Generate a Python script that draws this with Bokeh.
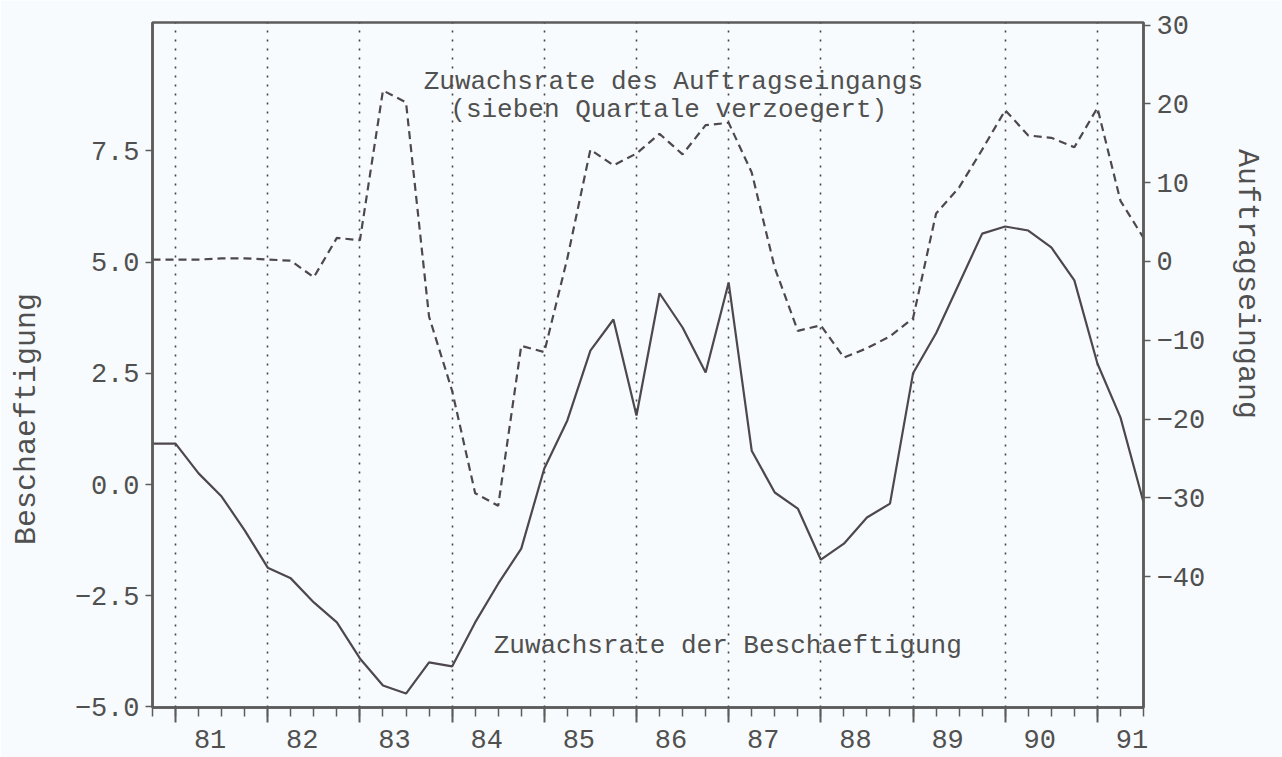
from bokeh.plotting import figure
from bokeh.models import Range1d, LinearAxis, FixedTicker, ColumnDataSource
from bokeh.embed import file_html
from bokeh.resources import INLINE
from bokeh.core.properties import value

# ---------------- data ----------------
quarters = ["1980Q4",
            "1981Q1", "1981Q2", "1981Q3", "1981Q4",
            "1982Q1", "1982Q2", "1982Q3", "1982Q4",
            "1983Q1", "1983Q2", "1983Q3", "1983Q4",
            "1984Q1", "1984Q2", "1984Q3", "1984Q4",
            "1985Q1", "1985Q2", "1985Q3", "1985Q4",
            "1986Q1", "1986Q2", "1986Q3", "1986Q4",
            "1987Q1", "1987Q2", "1987Q3", "1987Q4",
            "1988Q1", "1988Q2", "1988Q3", "1988Q4",
            "1989Q1", "1989Q2", "1989Q3", "1989Q4",
            "1990Q1", "1990Q2", "1990Q3", "1990Q4",
            "1991Q1", "1991Q2", "1991Q3"]

beschaeftigung = [0.92, 0.92, 0.25, -0.27, -1.03, -1.87, -2.11, -2.65, -3.10, -3.91,
                  -4.52, -4.70, -4.00, -4.09, -3.10, -2.23, -1.44, 0.36, 1.44, 3.01,
                  3.71, 1.55, 4.30, 3.53, 2.52, 4.54, 0.76, -0.18, -0.54, -1.69,
                  -1.33, -0.74, -0.43, 2.50, 3.40, 4.52, 5.64, 5.80, 5.71, 5.33,
                  4.59, 2.72, 1.51, -0.40]

auftragseingang = [0.25, 0.25, 0.25, 0.4, 0.4, 0.25, 0.1, -2.0, 3.0, 2.7,
                   21.7, 20.2, -7.0, -16.4, -29.4, -31.0, -10.7, -11.5, 0.4, 14.2,
                   12.2, 13.7, 16.2, 13.6, 17.3, 17.6, 11.3, -0.8, -8.8, -8.1,
                   -12.2, -11.0, -9.5, -7.2, 6.1, 9.4, 14.2, 19.2, 16.0, 15.7,
                   14.5, 19.5, 7.7, 3.0]

years = [1981, 1982, 1983, 1984, 1985, 1986, 1987, 1988, 1989, 1990, 1991]
year_labels = ["81", "82", "83", "84", "85", "86", "87", "88", "89", "90", "91"]

left_ticks = [-5.0, -2.5, 0.0, 2.5, 5.0, 7.5]
left_labels = ["\u22125.0", "\u22122.5", "0.0", "2.5", "5.0", "7.5"]
right_ticks = [-40, -30, -20, -10, 0, 10, 20, 30]
right_labels = ["\u221240", "\u221230", "\u221220", "\u221210", "0", "10", "20", "30"]

# ---------------- helpers ----------------
def q_to_x(q):
    return int(q[:4]) + (int(q[5]) - 1) / 4.0

xs = [q_to_x(q) for q in quarters]
quarter_ticks = xs
label_pos = [y + 0.375 for y in years]

BG = "#f8fbfd"
INK = "#4d484b"
TXT = "#505050"
FONT = "Liberation Mono"

p = figure(frame_width=991, frame_height=685,
           min_border_left=152, min_border_right=139,
           min_border_top=22, min_border_bottom=50,
           x_range=Range1d(1980.75, 1991.5), y_range=Range1d(-5.013, 10.387),
           output_backend="svg", toolbar_location=None,
           background_fill_color=BG, border_fill_color=BG)
p.outline_line_color = "#5c5c5c"
p.outline_line_width = 2.5

p.extra_y_ranges = {"r": Range1d(-56.6, 30.33)}

# grid
p.ygrid.visible = False
p.xgrid.ticker = FixedTicker(ticks=years)
p.xgrid.grid_line_color = "#444444"
p.xgrid.grid_line_dash = "2 7"
p.xgrid.grid_line_width = 1.6

# x tick axis (ticks only)
xa = p.xaxis[0]
xa.ticker = FixedTicker(ticks=years, minor_ticks=quarter_ticks)
xa.major_tick_out = 15
xa.major_tick_in = 0
xa.minor_tick_out = 9
xa.minor_tick_in = 0
xa.major_tick_line_color = "#5c5c5c"
xa.minor_tick_line_color = "#5c5c5c"
xa.major_tick_line_width = 2
xa.minor_tick_line_width = 1.5
xa.axis_line_color = "#5c5c5c"
xa.axis_line_width = 2.5
xa.major_label_text_font_size = "1px"
xa.major_label_overrides = {y: "" for y in years}
xa.major_label_standoff = 0

# x label axis (labels centred on each year)
xl = LinearAxis(ticker=FixedTicker(ticks=label_pos),
                major_label_overrides=dict(zip(label_pos, year_labels)))
xl.axis_line_color = None
xl.major_tick_line_color = None
xl.minor_tick_line_color = None
xl.major_tick_out = 0
xl.major_tick_in = 0
xl.major_label_standoff = 7
xl.major_label_text_font = FONT
xl.major_label_text_font_size = "27px"
xl.major_label_text_color = TXT
p.add_layout(xl, "below")

# left axis
ya = p.yaxis[0]
ya.ticker = FixedTicker(ticks=left_ticks)
ya.major_label_overrides = dict(zip(left_ticks, left_labels))
ya.major_tick_out = 7
ya.major_tick_in = 0
ya.minor_tick_line_color = None
ya.major_tick_line_color = "#5c5c5c"
ya.major_tick_line_width = 1.5
ya.axis_line_color = "#5c5c5c"
ya.axis_line_width = 2.5
ya.major_label_standoff = 6
ya.major_label_text_font = FONT
ya.major_label_text_font_size = "27px"
ya.major_label_text_color = TXT
ya.axis_label = "Beschaeftigung" + "\u00a0" * 6
ya.axis_label_text_font = FONT
ya.axis_label_text_font_size = "30px"
ya.axis_label_text_font_style = "normal"
ya.axis_label_text_color = TXT
ya.axis_label_standoff = 28

# right axis
ra = LinearAxis(y_range_name="r", ticker=FixedTicker(ticks=right_ticks),
                major_label_overrides=dict(zip(right_ticks, right_labels)))
ra.major_tick_out = 7
ra.major_tick_in = 0
ra.minor_tick_line_color = None
ra.major_tick_line_color = "#5c5c5c"
ra.major_tick_line_width = 1.5
ra.axis_line_color = "#5c5c5c"
ra.axis_line_width = 2.5
ra.major_label_standoff = 6
ra.major_label_text_font = FONT
ra.major_label_text_font_size = "27px"
ra.major_label_text_color = TXT
ra.axis_label = "Auftragseingang" + "\u00a0" * 9
ra.axis_label_text_font = FONT
ra.axis_label_text_font_size = "30px"
ra.axis_label_text_font_style = "normal"
ra.axis_label_text_color = TXT
ra.axis_label_standoff = 22
p.add_layout(ra, "right")

# series
src = ColumnDataSource(dict(x=xs, b=beschaeftigung, a=auftragseingang))
p.line("x", "b", source=src, line_color=INK, line_width=2.2)
p.line("x", "a", source=src, y_range_name="r", line_color=INK,
       line_width=2.2, line_dash="8 5")

# in-plot texts
notes = ColumnDataSource(dict(
    x=[1986.40, 1986.35, 1986.99],
    y=[9.06, 8.41, -3.62],
    t=["Zuwachsrate des Auftragseingangs",
       "(sieben Quartale verzoegert)",
       "Zuwachsrate der Beschaeftigung"]))
p.text("x", "y", text="t", source=notes, text_font=value(FONT),
       text_font_size="26px", text_color=TXT, text_align="center",
       text_baseline="middle")

open("out.html", "w").write(file_html(p, INLINE))
